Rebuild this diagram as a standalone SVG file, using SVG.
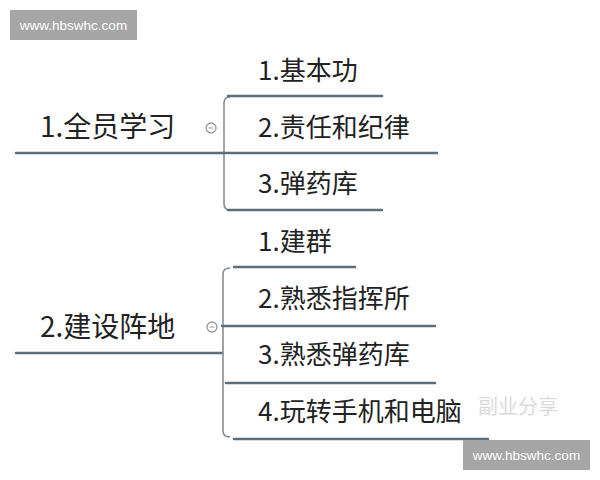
<svg xmlns="http://www.w3.org/2000/svg" width="600" height="480" viewBox="0 0 600 480">
<style>
.ln{fill:none;stroke:#5d6d7a;stroke-width:2.5;stroke-linecap:round}
.br{fill:none;stroke:#7d8790;stroke-width:1.5}
.t{font-family:"Noto Sans CJK SC","Noto Sans",sans-serif;fill:#222;font-size:26px}
.r{font-size:28px}
.cc{fill:#fff;stroke:#9a9a9a;stroke-width:1.3}
.wm{fill:#a6a6a6}
.wt{font-family:"Liberation Sans",Arial,sans-serif;font-size:13.5px;fill:#fff}
</style>
<rect width="600" height="480" fill="#fff"/>
<g id="connectors">
<path class="ln" d="M16 153H222"/>
<path class="br" d="M230 97Q224 97 224 103V204Q224 210 230 210"/>
<path class="ln" d="M228 96H382"/>
<path class="ln" d="M222 153H437"/>
<path class="ln" d="M228 210H382"/>
<path class="ln" d="M16 353H222"/>
<path class="br" d="M230 268Q223 268 223 274V431Q223 437 230 437"/>
<path class="ln" d="M234 267H355"/>
<path class="ln" d="M222 326H435"/>
<path class="ln" d="M226 383H435"/>
<path class="ln" d="M234 439H488"/>
</g>
<g id="root1">
<text class="t r" x="40" y="137">1.全员学习</text>
<circle class="cc" cx="211" cy="128" r="5"/>
<path d="M208.5 128H213.5" stroke="#9a9a9a" stroke-width="1"/>
</g>
<g id="n1-1"><text class="t" x="258" y="80">1.基本功</text></g>
<g id="n1-2"><text class="t" x="258" y="137">2.责任和纪律</text></g>
<g id="n1-3"><text class="t" x="258" y="193">3.弹药库</text></g>
<g id="root2">
<text class="t r" x="40" y="337">2.建设阵地</text>
<circle class="cc" cx="212" cy="327" r="5"/>
<path d="M209.5 327H214.5" stroke="#9a9a9a" stroke-width="1"/>
</g>
<g id="n2-1"><text class="t" x="258" y="251">1.建群</text></g>
<g id="n2-2"><text class="t" x="258" y="308">2.熟悉指挥所</text></g>
<g id="n2-3"><text class="t" x="258" y="364">3.熟悉弹药库</text></g>
<g id="n2-4"><text class="t" x="258" y="421">4.玩转手机和电脑</text></g>
<text x="478" y="414" font-family="Noto Sans CJK SC,sans-serif" font-size="20" fill="#dadada">副业分享</text>
<g id="wm1"><rect class="wm" x="10" y="10" width="127" height="30"/><text class="wt" x="73.5" y="30" text-anchor="middle">www.hbswhc.com</text></g>
<g id="wm2"><rect class="wm" x="463" y="440" width="127" height="30"/><text class="wt" x="526.5" y="460" text-anchor="middle">www.hbswhc.com</text></g>
</svg>
